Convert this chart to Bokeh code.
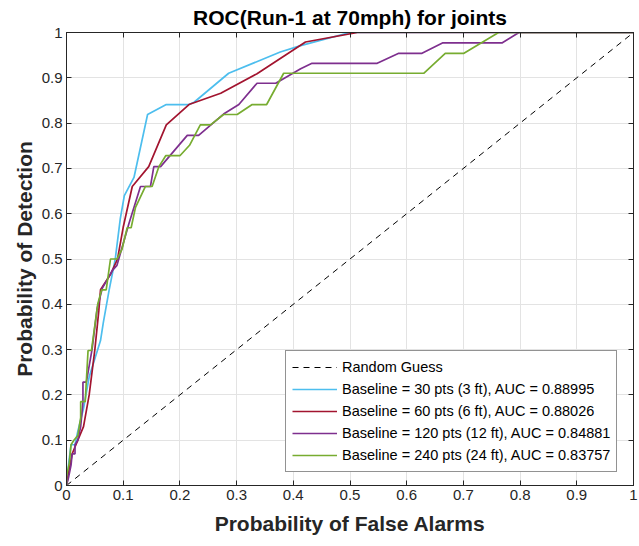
from bokeh.plotting import figure
from bokeh.models import LinearAxis, Legend, LegendItem, FixedTicker, Range1d
from bokeh.embed import file_html
from bokeh.resources import INLINE

# ---------------- data ----------------
title_text = "ROC(Run-1 at 70mph) for joints"
x_label = "Probability of False Alarms"
y_label = "Probability of Detection"

ticks = [0, 0.1, 0.2, 0.3, 0.4, 0.5, 0.6, 0.7, 0.8, 0.9, 1]
tick_labels = ["0", "0.1", "0.2", "0.3", "0.4", "0.5", "0.6", "0.7", "0.8", "0.9", "1"]

guess_label = "Random Guess"
guess_x = [0, 1]
guess_y = [0, 1]

labels = [
    "Baseline = 30 pts (3 ft), AUC = 0.88995",
    "Baseline = 60 pts (6 ft), AUC = 0.88026",
    "Baseline = 120 pts (12 ft), AUC = 0.84881",
    "Baseline = 240 pts (24 ft), AUC = 0.83757",
]

pfa_30 = [0, 0.004, 0.008, 0.015, 0.02, 0.03, 0.04, 0.05, 0.06, 0.065, 0.075, 0.086,
          0.095, 0.102, 0.119, 0.143, 0.176, 0.216, 0.225, 0.286, 0.377, 0.413, 0.50, 1.0]
pd_30 = [0, 0.05, 0.09, 0.09, 0.12, 0.17, 0.24, 0.28, 0.32, 0.36, 0.43, 0.50,
         0.59, 0.64, 0.68, 0.819, 0.841, 0.841, 0.846, 0.910, 0.957, 0.971, 1.0, 1.0]

pfa_60 = [0, 0.004, 0.01, 0.02, 0.03, 0.04, 0.05, 0.057, 0.06, 0.078, 0.09, 0.1,
          0.116, 0.145, 0.176, 0.216, 0.272, 0.336, 0.4215, 0.513, 1.0]
pd_60 = [0, 0.03, 0.07, 0.10, 0.13, 0.20, 0.30, 0.386, 0.432, 0.467, 0.50, 0.57,
         0.660, 0.704, 0.796, 0.841, 0.866, 0.909, 0.979, 1.0, 1.0]

pfa_120 = [0, 0.004, 0.008, 0.01, 0.015, 0.015, 0.02, 0.025, 0.029, 0.029, 0.035,
           0.045, 0.054, 0.063, 0.081, 0.089, 0.11, 0.1305, 0.148, 0.154, 0.166,
           0.213, 0.233, 0.277, 0.304, 0.336, 0.369, 0.413, 0.433, 0.548, 0.586,
           0.627, 0.663, 0.768, 0.798, 1.0]
pd_120 = [0, 0.02, 0.045, 0.07, 0.07, 0.09, 0.10, 0.13, 0.184, 0.228, 0.228,
          0.30, 0.39, 0.435, 0.475, 0.486, 0.578, 0.660, 0.660, 0.704, 0.704,
          0.773, 0.773, 0.820, 0.841, 0.888, 0.888, 0.920, 0.932, 0.932, 0.954,
          0.954, 0.977, 0.977, 1.0, 1.0]

pfa_240 = [0, 0, 0.005, 0.008, 0.013, 0.02, 0.025, 0.025, 0.033, 0.038, 0.044,
           0.055, 0.062, 0.070, 0.0776, 0.089, 0.098, 0.107, 0.114, 0.1217, 0.139,
           0.151, 0.163, 0.175, 0.200, 0.217, 0.236, 0.254, 0.277, 0.301, 0.3275,
           0.353, 0.383, 0.630, 0.668, 0.701, 0.762, 1.0]
pd_240 = [0, 0.02, 0.05, 0.09, 0.10, 0.11, 0.15, 0.185, 0.185, 0.298, 0.298,
          0.40, 0.432, 0.432, 0.500, 0.500, 0.522, 0.569, 0.569, 0.614, 0.660,
          0.660, 0.704, 0.728, 0.728, 0.751, 0.796, 0.796, 0.819, 0.819, 0.841,
          0.841, 0.910, 0.910, 0.954, 0.954, 1.0, 1.0]

series_x = [pfa_30, pfa_60, pfa_120, pfa_240]
series_y = [pd_30, pd_60, pd_120, pd_240]
colors = ["#4DBEEE", "#A2142F", "#7E2F8E", "#77AC30"]

# ---------------- styling ----------------
FONT = "Liberation Sans"
AX = "#262626"

p = figure(width=639, height=546, x_range=Range1d(0, 1), y_range=Range1d(0, 1),
           output_backend="svg", toolbar_location=None, title=title_text,
           min_border_left=66, min_border_right=6, min_border_top=32, min_border_bottom=61)

p.title.text_font = FONT
p.title.text_font_size = "21px"
p.title.text_font_style = "bold"
p.title.text_color = "#000000"
p.title.align = "center"
p.title.standoff = 7
p.title.offset = 0

p.outline_line_color = AX
p.outline_line_width = 1
p.background_fill_color = "white"
p.border_fill_color = "white"

label_map = dict(zip(ticks, tick_labels))

for ax in (p.xaxis[0], p.yaxis[0]):
    ax.ticker = FixedTicker(ticks=ticks)
    ax.major_label_overrides = label_map
    ax.major_label_text_font = FONT
    ax.major_label_text_font_size = "15px"
    ax.major_label_text_color = AX
    ax.major_tick_in = 5
    ax.major_tick_out = 0
    ax.minor_tick_line_color = None
    ax.major_tick_line_color = AX
    ax.axis_line_color = AX
    ax.axis_label_text_font = FONT
    ax.axis_label_text_font_size = "21px"
    ax.axis_label_text_font_style = "bold"
    ax.axis_label_text_color = AX
    ax.major_label_standoff = 4

p.xaxis.axis_label = x_label
p.yaxis.axis_label = y_label
p.xaxis.axis_label_standoff = 9
p.yaxis.axis_label_standoff = 3

for loc in ("above", "right"):
    extra = LinearAxis(ticker=FixedTicker(ticks=ticks),
                       major_label_overrides={t: "" for t in ticks},
                       major_label_text_font_size="1px",
                       major_label_standoff=0,
                       major_tick_in=5, major_tick_out=0,
                       minor_tick_line_color=None,
                       major_tick_line_color=AX, axis_line_color=AX)
    p.add_layout(extra, loc)

p.xgrid.ticker = FixedTicker(ticks=ticks)
p.ygrid.ticker = FixedTicker(ticks=ticks)
p.grid.grid_line_color = "#e3e3e3"
p.grid.grid_line_width = 1

items = []
r0 = p.line(guess_x, guess_y, line_color="#000000", line_width=1, line_dash="6 5")
items.append(LegendItem(label=guess_label, renderers=[r0]))
for xs, ys, c, lab in zip(series_x, series_y, colors, labels):
    r = p.line(xs, ys, line_color=c, line_width=1.7)
    items.append(LegendItem(label=lab, renderers=[r]))

legend = Legend(items=items, location=(219, 13),
                label_text_font=FONT, label_text_font_size="14.5px",
                label_text_color="#000000",
                glyph_width=45, glyph_height=20, label_height=20,
                spacing=2, padding=6, margin=0, label_standoff=5,
                border_line_color=AX, border_line_width=1,
                background_fill_color="white", background_fill_alpha=1)
p.add_layout(legend)

open("out.html", "w").write(file_html(p, INLINE))
